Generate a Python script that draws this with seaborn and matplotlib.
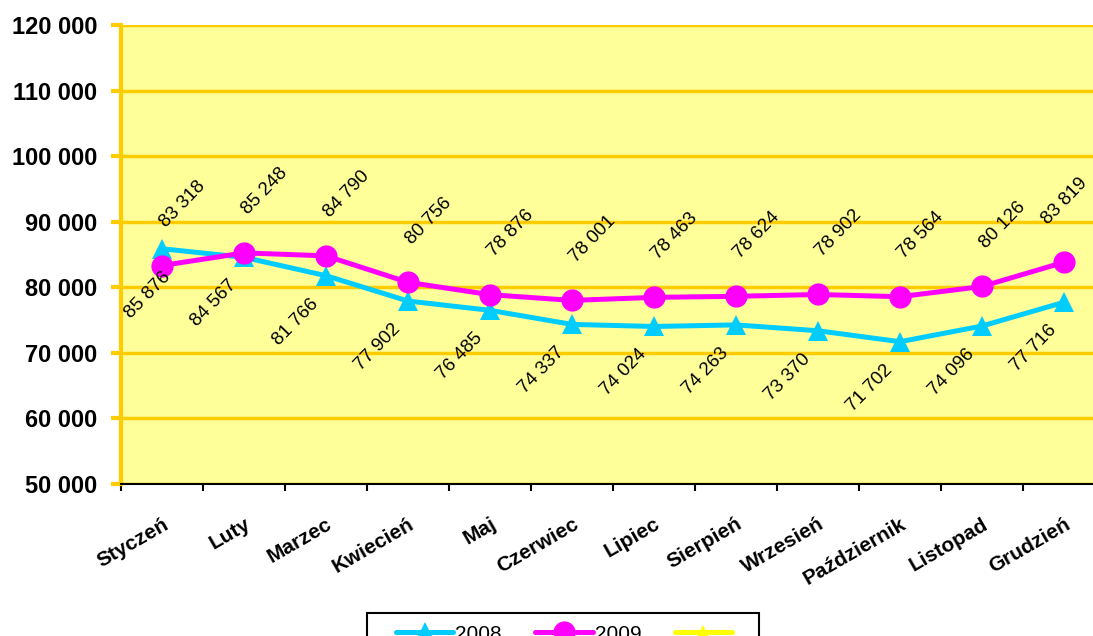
"""
Liczba ... w poszczególnych miesiącach 2008 i 2009 - wykres liniowy
"""

import numpy as np
import pandas as pd
import matplotlib
matplotlib.use('Agg')
import matplotlib.pyplot as plt
import seaborn as sns
from matplotlib.ticker import FuncFormatter
from matplotlib.patches import Rectangle

# dane
months = ['Styczeń', 'Luty', 'Marzec', 'Kwiecień', 'Maj', 'Czerwiec', 'Lipiec',
          'Sierpień', 'Wrzesień', 'Październik', 'Listopad', 'Grudzień']
values_2008 = [85876, 84567, 81766, 77902, 76485, 74337, 74024, 74263, 73370, 71702, 74096, 77716]
values_2009 = [83318, 85248, 84790, 80756, 78876, 78001, 78463, 78624, 78902, 78564, 80126, 83819]
yticks = [50000, 60000, 70000, 80000, 90000, 100000, 110000, 120000]

sns.set_style('white')
plt.rcParams['font.family'] = ['Liberation Sans', 'DejaVu Sans']
plt.rcParams['text.color'] = 'black'

def fmt(v):
    return f'{int(v):,}'.replace(',', ' ')

fig = plt.figure(figsize=(10.93, 6.36), dpi=100)
W, H = 1093, 636
ax = fig.add_axes([121 / W, 1 - 484 / H, 984 / W, 459 / H])
ax.set_facecolor('#FFFF99')

df = pd.DataFrame({'month': months, 'x': np.arange(len(months)),
                   '2008': values_2008, '2009': values_2009})

sns.lineplot(data=df, x='x', y='2008', ax=ax, color='#00CCFF', linewidth=3.6,
             marker='^', markersize=15, markeredgewidth=0, label='2008', zorder=3)
sns.lineplot(data=df, x='x', y='2009', ax=ax, color='#FF00FF', linewidth=3.6,
             marker='o', markersize=16, markeredgewidth=0, label='2009', zorder=4)
# trzecia seria bez danych (tylko w legendzie)
ax.plot([], [], color='#FFFF00', linewidth=3.6, marker='^', markersize=10,
        markeredgewidth=0, label=' ')

# etykiety danych
labels_txt = []
for i, v in enumerate(values_2009):
    t = ax.annotate(fmt(v), (i, v), xytext=(5, 25), textcoords='offset points',
                    rotation=46, rotation_mode='anchor', ha='left', va='bottom',
                    fontsize=13.5, color='black', zorder=5)
    labels_txt.append(t)
for i, v in enumerate(values_2008):
    t = ax.annotate(fmt(v), (i, v), xytext=(-12, -14), textcoords='offset points',
                    rotation=46, rotation_mode='anchor', ha='right', va='top',
                    fontsize=13.5, color='black', zorder=5)
    labels_txt.append(t)

ax.set_xlim(-0.5, 11.5)
ax.set_ylim(50000, 120000)
ax.set_yticks(yticks)
ax.yaxis.set_major_formatter(FuncFormatter(lambda v, p: fmt(v)))
ax.set_xticks(np.arange(-0.5, 11.5, 1))
ax.set_xticklabels([])
ax.set_xticks(np.arange(len(months)), minor=True)
ax.set_xticklabels(months, minor=True, rotation=30, ha='right',
                   rotation_mode='anchor', fontsize=15, fontweight='bold')
ax.tick_params(axis='x', which='minor', length=0, pad=22, labelcolor='black')
ax.tick_params(axis='x', which='major', bottom=True, length=5, width=1.5,
               color='black', direction='out')
ax.tick_params(axis='y', left=True, length=7, width=3, color='#FFCC00',
               labelsize=17, pad=10, labelcolor='black')
for lbl in ax.get_yticklabels():
    lbl.set_fontweight('bold')

ax.grid(axis='y', color='#FFCC00', linewidth=2.5)
ax.set_axisbelow(True)
ax.set_xlabel('')
ax.set_ylabel('')

for s in ['top', 'right']:
    ax.spines[s].set_visible(False)
ax.spines['left'].set_color('#FFCC00')
ax.spines['left'].set_linewidth(3)
ax.spines['bottom'].set_color('black')
ax.spines['bottom'].set_linewidth(1.5)

# etykiety nie mogą wychodzić poza widoczny obszar wykresu
fig.canvas.draw()
renderer = fig.canvas.get_renderer()
x_min, x_max = 122, W - 2
for t in labels_txt:
    bb = t.get_window_extent(renderer)
    dx = 0
    if bb.x0 < x_min:
        dx = x_min - bb.x0
    elif bb.x1 > x_max:
        dx = x_max - bb.x1
    if dx:
        ox, oy = t.xyann
        t.xyann = (ox + dx * 72 / fig.dpi, oy)

ax.get_legend().remove()
handles, labels = ax.get_legend_handles_labels()
fig.legend(handles, labels, loc='center left', bbox_to_anchor=(396 / W, 1 - 634 / H),
           ncol=3, frameon=False, fontsize=15, handlelength=2.75, handletextpad=0.1,
           columnspacing=1.6, borderpad=0, borderaxespad=0)
fig.patches.append(Rectangle((367 / W, -0.05), 392 / W, 0.05 + 1 - 613 / H,
                             transform=fig.transFigure, fill=False,
                             edgecolor='black', linewidth=1.5))

fig.savefig('out.png', dpi=100)
